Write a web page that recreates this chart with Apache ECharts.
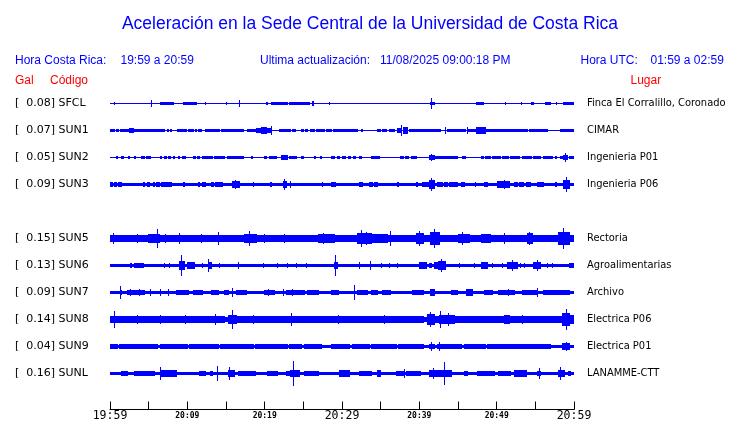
<!DOCTYPE html>
<html>
<head>
<meta charset="utf-8">
<script src="https://cdn.jsdelivr.net/npm/echarts@6/dist/echarts.min.js"></script>
<style>html,body{margin:0;padding:0;background:#fff}#c{width:740px;height:423px}</style>
</head>
<body>
<div id="c"></div>
<script>
// ---- DATA ----
const rowCodes = ['SFCL','SUN1','SUN2','SUN3','','SUN5','SUN6','SUN7','SUN8','SUN9','SUNL'];
const rowGal   = [0.08, 0.07, 0.05, 0.09, null, 0.15, 0.13, 0.09, 0.14, 0.04, 0.16];
const rowPlace = ['Finca El Corralillo, Coronado','CIMAR','Ingenieria P01','Ingenieria P06','',
                  'Rectoria','Agroalimentarias','Archivo','Electrica P06','Electrica P01','LANAMME-CTT'];
// noise floor (half amplitude, relative units; one row = 27 units)
const baseLevel = [0.5, 0.5, 0.5, 1.5, null, 3.2, 1.5, 1.5, 2.3, 1.5, 1.5];
// minutes after 19:59
const tickLabels = ['19:59','','20:09','','20:19','','20:29','','20:39','','20:49','','20:59'];
const bigTickLabels = ['19:59','20:29','20:59'];

// segments: [startMinute, endMinute, halfAmplitude]
const SFCL = [[0.56,0.56,1.5],[5.4,5.4,3.7],[6.5,6.9,1.2],[7.1,7.5,1.2],[7.6,8.2,1.2],[9.5,10.1,1.2],[10.3,10.9,1.2],[11.0,11.2,1],[12.3,12.4,1],[15,15,1],[16.8,16.8,3.7],[20.2,20.4,1],[20.9,22,1.3],[22.2,23,1.2],[23.2,25.8,1.3],[26.2,26.3,2],[28.4,28.4,1],[41.4,41.9,1.5],[41.6,41.6,5.8],[47.4,48.3,1.3],[51.2,51.2,1],[53.2,53.2,1.5],[54.5,54.8,1.2],[56.3,56.9,1.2],[57.7,57.7,1],[58.7,59.9,1.2]];
const SUN1 = [[0,0.56,1.5],[0.86,1.16,1.3],[1.4,2.4,1.5],[2.5,3,2.5],[3,3.9,1.5],[4,6.75,1.5],[6.9,7.1,1.2],[7.4,7.6,1.2],[7.8,8,1.2],[8.7,9.9,1.5],[10.1,10.4,1.2],[10.6,10.8,1.2],[11,11.2,1.2],[11.5,11.8,1.2],[12.3,14.2,1.5],[14.4,17.3,1.5],[17.8,18.8,1.5],[18.9,19.6,2.5],[19.6,20.3,3.5],[20.3,20.8,2.5],[20.9,20.9,4],[21.9,23.4,1.5],[23.6,24,1.2],[24.7,25,1.2],[25.3,25.6,1.2],[25.9,26.5,1.3],[26.7,27.7,1.5],[28,28.6,1.3],[28.9,29.4,1.3],[29.6,32,1.5],[32.5,32.6,1],[34.6,35,1.2],[35.3,35.8,1.2],[36.1,36.8,1.3],[37.2,37.6,2.5],[37.7,37.7,5],[37.9,38.5,3.5],[38.7,42.8,1.5],[43.4,43.4,3],[43.7,46,1.5],[46.2,46.2,3],[46.3,47.3,1.5],[47.4,48.6,3],[48.6,52,1.5],[52.2,54,1.5],[54.2,56.6,1.5],[58.3,58.6,1.2],[58.8,59.9,1.5]];
const SUN2 = [[0.9,1,1.2],[1.5,1.7,1.5],[2.4,2.5,1.2],[3.2,3.3,1.2],[4.1,4.4,1.3],[4.7,5.2,1.3],[6.5,6.7,1.2],[7,7.3,1.2],[7.6,7.8,1.2],[8.2,8.4,1.2],[8.8,9,1.2],[9.4,9.7,1.2],[10.8,11,1.2],[11.3,11.6,1.2],[12,12.3,1.2],[12.5,13.3,1.3],[13.5,14.8,1.5],[15.2,17.3,1.8],[18.3,18.4,1.2],[20,20.3,1.2],[20.6,21,1.2],[21.2,21.5,1.2],[22.2,23,2.5],[23.2,24.1,1.5],[24.7,25,1.2],[26.5,26.6,1],[27.2,27.3,1],[28.6,29,1.2],[29.4,29.7,1.2],[30,30.4,1.2],[30.9,31.1,1.2],[31.5,31.7,1.2],[32.2,32.5,1.2],[33.8,34.8,1.5],[37.6,37.9,1.2],[38.2,38.6,1.2],[39,39.6,1.2],[41.3,41.9,2.5],[41.6,41.6,3],[41.9,45,1.8],[45.6,46,1.2],[48,48.3,1.2],[48.6,49.2,1.3],[49.5,50.5,1.5],[50.8,51.5,1.3],[51.8,53,1.5],[53.3,54.5,1.5],[54.8,55.7,1.5],[56.1,57.2,1.5],[57.6,57.8,1.2],[58.2,58.5,1.2],[58.7,59.1,2],[58.9,58.9,4],[59.4,59.9,1.2]];
const SUN3 = [[0,0.3,2.3],[0.6,0.8,2.3],[1.1,1.5,2.3],[4.3,4.5,2.2],[4.9,5.1,2.2],[5.6,5.8,2.2],[6,6.4,2.3],[6.6,7,2.5],[7.1,8,2.5],[9.5,9.6,2],[11.4,11.6,2.2],[11.9,12.3,2.3],[13.1,13.4,2.2],[13.6,14.6,2.4],[15.9,16.8,3],[16.2,16.2,4],[18.5,18.6,2],[20.7,20.9,2.2],[22.4,22.8,3],[22.6,22.6,5],[23.4,23.4,3],[27.5,27.5,2.2],[28.6,29.1,2.5],[32.3,32.7,2.3],[33.5,34,2.3],[34.2,34.6,2.3],[37.2,37.3,2.2],[39.6,39.7,2.2],[40.4,41.3,2.4],[41.3,41.9,4],[41.6,41.6,6],[42.4,43,2.5],[43.3,43.6,2.5],[43.9,44.4,2.5],[44.6,45,2.3],[45.4,45.8,2.3],[47.3,47.3,2.3],[48.4,48.8,2.5],[50.1,51.6,3],[51,51,4],[52.3,52.7,2.3],[53,53.5,2.3],[53.8,54.4,2.3],[55.3,56.1,2.3],[57.6,57.7,2.2],[58.7,59.4,4],[59,59,7]];
const SUN5 = [[0,1,3.5],[0.4,0.4,5],[1,2.8,3],[2.8,5,3.5],[3.6,3.6,4.5],[5,6.4,4],[6.2,6.2,9],[6.4,8,3.5],[7.2,7.2,4.5],[8,10.5,3.5],[9,9,5],[10.5,13.5,3.5],[11.8,11.8,4.5],[14,14,6],[13.5,17.4,3.2],[17.4,19,4],[18.1,18.1,7],[19,21.3,3.5],[20,20,4.5],[21.3,24.7,3.5],[22.5,22.5,4.5],[24.7,26.9,3.2],[26.9,29,4],[27.6,27.6,5.5],[29,32,3.2],[32,33.8,5],[32.5,32.5,8],[33.2,33.2,6],[33.8,35.9,4],[36.3,36.3,7],[35.9,39.6,3.5],[39.6,40.6,5],[40,40,7.5],[40.6,41.5,3.5],[41.5,42.6,6],[42,42,9.5],[42.6,45,3.5],[45,46.5,4.5],[45.6,45.6,6],[46.5,48,3.5],[48,49.2,4.5],[49.2,54,3.5],[51,51,5],[54,54.6,5],[54.3,54.3,6.5],[54.6,58,3.5],[58,59.4,6],[58.6,58.6,10],[59.4,60,3.5]];
const SUN6 = [[2.6,2.8,2.3],[3.2,3.4,2.3],[3.6,4.3,2.8],[7.1,7.1,2],[7.7,7.7,2],[9,9.6,4],[9.3,9.3,10],[10,10.9,3],[12.0,12.0,2],[12.7,13.1,3.5],[12.8,12.8,6],[14.2,14.2,2.5],[16.6,16.6,3],[19.8,19.8,2],[21.7,21.7,2.3],[23,23,2],[24.1,24.1,2],[25.4,25.4,2],[29.0,29.4,3.5],[29.2,29.2,10],[32.3,32.3,3],[33.7,33.7,4],[35.1,35.1,2],[36.1,36.1,2],[37.2,37.2,2.5],[40,40.9,3],[41.3,41.6,2.8],[42,42.4,3],[42.5,43.4,4],[42.9,42.9,6],[45.2,45.2,2],[47.1,47.1,2],[48,48.8,3],[49.5,49.5,2.5],[50.7,50.7,2],[51.4,52.7,3.5],[52.1,52.1,5],[53.1,53.1,2.5],[53.6,53.6,2.5],[54.8,55.7,3.5],[55.3,55.3,5],[56.6,56.6,2.5],[57.2,57.2,2.5],[59.4,59.9,2.5]];
const SUN7 = [[1.3,1.5,2.5],[1.4,1.4,6],[2.2,4.5,2.3],[2.6,2.6,3.5],[3.8,3.8,3],[5.2,5.2,3],[6.5,6.5,3],[7.5,7.5,3],[8.6,10.1,2.3],[10.8,12,2.3],[13.1,14,2.3],[14.8,15.3,2.3],[15.9,15.9,4],[16.3,17.6,2.3],[20,21.3,2.3],[20.5,20.5,3.5],[22.4,22.4,3.5],[22.8,25.2,2.3],[23.6,23.6,3.5],[25.6,26.9,2.3],[28.6,29.5,2.5],[31.6,31.6,7],[32,33.3,2.3],[33.8,34.6,2.3],[35.3,36.3,2.3],[39.1,40.6,2.3],[41.5,42,3],[41.7,41.7,3.5],[44.1,45,2.3],[46.1,46.9,3],[48.4,49.5,2.3],[50.3,52.3,2.3],[51.5,51.5,3.5],[53.3,55.3,2.5],[55.3,55.3,4],[56.1,59.4,2.3]];
const SUN8 = [[0,1,3.5],[0.56,0.56,8],[1,13,3],[3.5,3.5,4],[6.5,6.5,4],[9.8,9.8,4],[13.1,14.8,3.5],[13.6,13.6,5],[15.3,16.3,4.5],[15.9,15.9,9],[16.3,22.6,3],[18.5,18.5,4],[22.6,24,3.5],[23.5,23.5,6],[24,40.6,3],[29.5,29.5,4],[35.5,35.5,4],[41,41.9,5],[41.4,41.4,7],[41.9,42.6,3.5],[42.6,44.5,4.5],[42.8,42.8,8.5],[43.8,43.8,6],[44.5,51,3.5],[51,51.6,4],[51.6,58.5,3],[53.4,53.4,4],[58.5,59.4,6],[59,59,10],[59.4,60,4]];
const SUN9 = [[0,1,2.2],[0.4,0.4,2.5],[1.2,3.5,2],[3.7,6.2,2],[6.5,10,2],[10.3,14,2],[14.3,18.5,2],[18.8,23,2],[23.2,24.8,2],[25.1,27.3,2],[28.6,31,2],[31.3,33.5,2],[33.8,37,2],[37.3,40.6,2],[41.3,41.9,2.8],[41.6,41.6,4],[42.4,45.5,2],[42.6,42.6,4],[45.8,48.5,2],[48.8,57,2],[58.5,59.4,3],[59,59,4.5]];
const SUNL = [[1.5,2.2,2.3],[3.2,5.8,2.3],[6.5,6.5,6],[6.6,8.6,3],[11.6,12.3,2.3],[13,13.3,2.3],[13.9,13.9,7],[15.3,16.1,3.5],[15.5,15.5,6.5],[16.6,18.8,2.3],[20.4,21.7,2.3],[22.8,23.2,2.3],[23.3,24.5,3],[23.7,23.7,12],[25.2,26.9,2.3],[29.7,31,3.5],[32.3,33.8,2.3],[34.6,35,3],[37,38,2.3],[38.1,38.1,4],[38.3,40.2,2.3],[41.3,42.8,3.5],[41.8,41.8,5],[42.8,44.1,3],[43.2,43.2,11],[45.8,46.2,2.3],[47.5,49.7,2.3],[50.3,51.8,2.3],[52.3,53.8,3],[55.3,55.7,2.5],[55.5,55.5,5],[58,58.8,3],[58.3,58.3,6],[59.3,59.6,2.3]];

const headerLeft = ['Hora Costa Rica:', '19:59 a 20:59'];
const headerMid = ['Ultima actualización:', '11/08/2025 09:00:18 PM'];
const headerRight = ['Hora UTC:', '01:59 a 02:59'];
const titleText = 'Aceleración en la Sede Central de la Universidad de Costa Rica';

// ---- BUILD ----
const traces = {SFCL, SUN1, SUN2, SUN3, SUN5, SUN6, SUN7, SUN8, SUN9, SUNL};
const ROW_UNITS = 27;
const segData = [];
rowCodes.forEach((code, r) => {
  if (!code) return;
  segData.push([0, 60, r, baseLevel[r]]);
  traces[code].forEach(s => segData.push([s[0], s[1], r, s[2]]));
});
const leftLabels = rowCodes.map((c, i) => c ? '[  ' + rowGal[i].toFixed(2) + '] ' + c : '');

const BLUE = '#0000ff', RED = '#ff0000';
const chart = echarts.init(document.getElementById('c'), null, {renderer: 'canvas'});
function txt(x, y, text, color, font) {
  return {type: 'text', x: x, y: y, style: {text: text, fill: color, font: font,
    textAlign: 'left', textVerticalAlign: 'middle', align: 'left', verticalAlign: 'middle'}};
}
const hf = '12px "Liberation Sans", Arial, sans-serif';
chart.setOption({
  animation: false,
  backgroundColor: '#fff',
  title: {text: titleText, left: 'center', top: 10,
    textStyle: {color: BLUE, fontSize: 17.5, fontWeight: 'normal', fontFamily: '"Liberation Sans", Arial, sans-serif'}},
  graphic: [
    txt(15, 61, headerLeft[0], BLUE, hf), txt(120.5, 61, headerLeft[1], BLUE, hf),
    txt(260, 61, headerMid[0], BLUE, hf), txt(380, 61, headerMid[1], BLUE, hf),
    txt(580.5, 61, headerRight[0], BLUE, hf), txt(650.5, 61, headerRight[1], BLUE, hf),
    txt(15, 81, 'Gal', RED, hf), txt(50, 81, 'Código', RED, hf), txt(630.5, 81, 'Lugar', RED, hf)
  ],
  grid: {left: 110, right: 166, top: 90, height: 297, outerBoundsMode: 'none', containLabel: false},
  xAxis: {
    type: 'value', min: 0, max: 60, interval: 5, offset: 22.5,
    axisLine: {show: true, onZero: false, lineStyle: {color: '#000', width: 1}},
    axisTick: {show: true, inside: true, length: 8, lineStyle: {color: '#000'}},
    splitLine: {show: false},
    axisLabel: {
      showMinLabel: true, showMaxLabel: true, hideOverlap: false, margin: 1, verticalAlign: 'top',
      formatter: v => {
        const l = tickLabels[Math.round(v / 5)] || '';
        if (!l) return '';
        return bigTickLabels.indexOf(l) >= 0 ? '{big|' + l + '}' : '{small|' + l + '}';
      },
      rich: {
        big: {fontFamily: '"DejaVu Sans Mono", monospace', fontSize: 11.5, color: '#000', lineHeight: 12},
        small: {fontFamily: '"DejaVu Sans Mono", monospace', fontSize: 8, fontWeight: 'bold', color: '#000', lineHeight: 10}
      }
    }
  },
  yAxis: [
    {type: 'category', data: leftLabels, inverse: true,
      axisLine: {show: false}, axisTick: {show: false}, splitLine: {show: false},
      axisLabel: {align: 'left', margin: 95, color: '#000', fontSize: 11, fontFamily: '"DejaVu Sans", sans-serif', interval: 0}},
    {type: 'category', data: rowPlace, inverse: true, position: 'right',
      axisLine: {show: false}, axisTick: {show: false}, splitLine: {show: false},
      axisLabel: {align: 'left', margin: 13, color: '#000', fontSize: 11, fontFamily: '"DejaVu Sans Condensed", "DejaVu Sans", sans-serif', interval: 0}}
  ],
  series: [{
    type: 'custom',
    data: segData,
    encode: {x: [0, 1], y: 2},
    renderItem: function (params, api) {
      const t0 = api.value(0), t1 = api.value(1), r = api.value(2), a = api.value(3);
      const p0 = api.coord([t0, r]), p1 = api.coord([t1, r]);
      const unit = api.size([0, 1])[1] / ROW_UNITS;
      const x0 = Math.floor(p0[0]);
      const x1 = Math.max(Math.ceil(p1[0]), x0 + 1);
      const h = 2 * Math.max(0, Math.round(a * unit - 0.5)) + 1;
      return {type: 'rect', shape: {x: x0, y: p0[1] - h / 2, width: x1 - x0, height: h},
        style: {fill: BLUE}};
    }
  }]
});
</script>
</body>
</html>
